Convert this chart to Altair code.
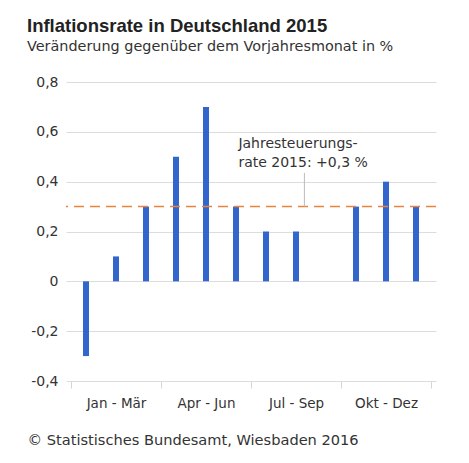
import altair as alt
import pandas as pd

months = ["Jan", "Feb", "Mär", "Apr", "Mai", "Jun", "Jul", "Aug", "Sep", "Okt", "Nov", "Dez"]
values = [-0.3, 0.1, 0.3, 0.5, 0.7, 0.3, 0.2, 0.2, 0.0, 0.3, 0.4, 0.3]
quarters = ["Jan - Mär", "Apr - Jun", "Jul - Sep", "Okt - Dez"]
y_ticks = [-0.4, -0.2, 0.0, 0.2, 0.4, 0.6, 0.8]
annual_rate = 0.3
note_lines = ["Jahresteuerungs-", "rate 2015: +0,3 %"]
note_pos = [5.58, 0.535]
leader = [7.78, 0.3, 0.435]

W, H = 370, 299
FONT = "DejaVu Sans"

df = pd.DataFrame({"pos": [i + 0.5 for i in range(len(months))], "month": months, "value": values})

x_vals = []
for q in range(len(quarters)):
    x_vals += [q * 3, q * 3 + 1.5]
x_vals.append(len(quarters) * 3)
label_expr = "datum.value % 3 === 0 ? '' : " + " : ".join(
    f"datum.value === {q*3+1.5} ? '{lab}'" for q, lab in enumerate(quarters)) + " : ''"

xscale = alt.Scale(domain=[0, 12], nice=False, zero=False)
yscale = alt.Scale(domain=[-0.4, 0.8], nice=False)

x_axis = alt.Axis(
    values=x_vals, grid=False, domain=False,
    tickColor="#d6d6d6", tickSize=7, tickWidth=1,
    tickOpacity=alt.ExprRef(expr="datum.value % 3 === 0 ? 1 : 0"),
    labelExpr=label_expr, labelFont=FONT, labelFontSize=13.5, labelColor="#333",
    labelPadding=8, labelFlush=False,
    title="© Statistisches Bundesamt, Wiesbaden 2016",
    titleFont=FONT, titleFontSize=14.6, titleFontWeight="normal", titleColor="#333",
    titleX=-39, titleY=63, titleAlign="left", titleBaseline="alphabetic", titleAnchor="start",
)
y_axis = alt.Axis(
    values=y_ticks, domain=False, ticks=False,
    gridColor="#dcdcdc", gridWidth=1,
    labelExpr="datum.value === 0 ? '0' : replace(replace(format(datum.value, '.1f'), '.', ','), '\u2212', '-')",
    labelFont=FONT, labelFontSize=14, labelColor="#333", labelPadding=8,
    title=None,
)

bars = alt.Chart(df).mark_bar(width=6, color="#3366cc").encode(
    x=alt.X("pos:Q", scale=xscale, axis=x_axis),
    y=alt.Y("value:Q", scale=yscale, axis=y_axis),
)

avg = alt.Chart(pd.DataFrame({"v": [annual_rate]})).mark_rule(
    color="#e8843f", strokeDash=[10, 6], strokeWidth=1.5
).encode(y=alt.Y("v:Q", scale=yscale))

lead = alt.Chart(pd.DataFrame({"x": [leader[0]], "y": [leader[1]], "y2": [leader[2]]})).mark_rule(
    color="#bbbbbb", strokeWidth=1
).encode(x=alt.X("x:Q", scale=xscale), y=alt.Y("y:Q", scale=yscale), y2="y2:Q")

note = alt.Chart(pd.DataFrame({"x": [note_pos[0]], "y": [note_pos[1]], "t": ["\n".join(note_lines)]})).mark_text(
    align="left", baseline="alphabetic", lineBreak="\n", lineHeight=19,
    font=FONT, fontSize=14, color="#333"
).encode(x=alt.X("x:Q", scale=xscale), y=alt.Y("y:Q", scale=yscale), text="t:N")

chart = alt.layer(bars, avg, lead, note).properties(
    width=W, height=H,
    autosize=alt.AutoSizeParams(type="none"),
    padding={"left": 58, "top": 74, "right": 25, "bottom": 74},
    title=alt.TitleParams(
        text="Inflationsrate in Deutschland 2015",
        subtitle="Veränderung gegenüber dem Vorjahresmonat in %",
        anchor="start", frame="group", dx=-39, offset=22,
        font="Liberation Sans", fontSize=18.5, fontWeight="bold", color="#222",
        subtitleFont=FONT, subtitleFontSize=14.4, subtitleColor="#333", subtitlePadding=4,
    ),
).configure_view(stroke=None)

chart.save("out.html", embed_options={"renderer": "svg", "actions": False})
